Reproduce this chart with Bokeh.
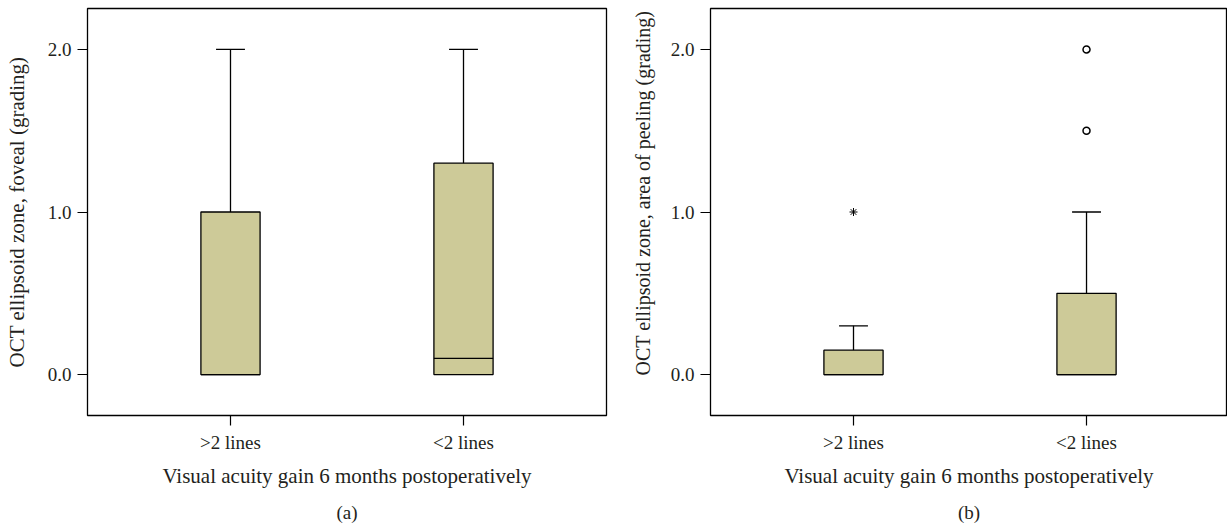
from bokeh.plotting import figure
from bokeh.layouts import row
from bokeh.models import FixedTicker, Range1d, Title
from bokeh.embed import file_html
from bokeh.resources import INLINE

# ---- data ----
groups = [">2 lines", "<2 lines"]

a_min = [0.0, 0.0]
a_q1 = [0.0, 0.0]
a_med = [0.0, 0.1]
a_q3 = [1.0, 1.3]
a_max = [2.0, 2.0]

b_min = [0.0, 0.0]
b_q1 = [0.0, 0.0]
b_med = [0.0, 0.0]
b_q3 = [0.15, 0.5]
b_max = [0.3, 1.0]

b_extreme_group = [">2 lines"]
b_extreme_val = [1.0]
b_outlier_group = ["<2 lines", "<2 lines"]
b_outlier_val = [1.5, 2.0]

y_ticks = [0.0, 1.0, 2.0]
x_title = "Visual acuity gain 6 months postoperatively"

FONT = "Liberation Serif"
TXT = "#231F20"
FILL = "#CDCA98"


def make(ylabel, panel, mn, q1, md, q3, mx, width, bl, br, xr, title_ylabel=False, yoff=0):
    p = figure(width=width, height=531, output_backend="svg", toolbar_location=None,
               x_range=Range1d(*xr), y_range=Range1d(-0.2515, 2.2515),
               min_border_left=bl, min_border_right=br, min_border_top=8,
               min_border_bottom=115)
    pos = [groups.index(g) + 1 for g in groups]
    half_box = 0.127
    half_cap = 0.062
    # whiskers
    p.segment(x0=pos, y0=q3, x1=pos, y1=mx, line_color="black", line_width=1.3)
    p.segment(x0=pos, y0=q1, x1=pos, y1=mn, line_color="black", line_width=1.3)
    p.segment(x0=[x - half_cap for x in pos], y0=mx, x1=[x + half_cap for x in pos], y1=mx,
              line_color="black", line_width=1.3)
    # boxes
    p.vbar(x=pos, width=2 * half_box, bottom=q1, top=q3, fill_color=FILL,
           line_color="black", line_width=1.3)
    p.segment(x0=[x - half_box for x in pos], y0=md, x1=[x + half_box for x in pos], y1=md,
              line_color="black", line_width=1.3)

    p.xaxis.ticker = FixedTicker(ticks=pos)
    p.xaxis.major_label_overrides = {x: g for x, g in zip(pos, groups)}
    p.yaxis.ticker = FixedTicker(ticks=y_ticks)
    p.yaxis.major_label_overrides = {t: f"{t:.1f}" for t in y_ticks}
    p.xaxis.axis_label = x_title
    for ax in (p.xaxis[0], p.yaxis[0]):
        ax.axis_line_color = None
        ax.major_tick_in = 0
        ax.major_tick_out = 10
        ax.major_tick_line_color = "black"
        ax.major_tick_line_width = 1.2
        ax.minor_tick_line_color = None
        ax.major_label_text_font = FONT
        ax.major_label_text_font_size = "19px"
        ax.major_label_text_color = TXT
        ax.axis_label_text_font = FONT
        ax.axis_label_text_font_size = "21px"
        ax.axis_label_text_font_style = "normal"
        ax.axis_label_text_color = TXT
        ax.major_label_standoff = 6
    p.xaxis.axis_label_standoff = 8
    if title_ylabel:
        p.add_layout(Title(text=ylabel, align="left", offset=yoff, text_font=FONT,
                           text_font_size="20px", text_font_style="normal",
                           text_color=TXT, standoff=27), "left")
    else:
        p.yaxis.axis_label = ylabel
        p.yaxis.axis_label_standoff = 16
    p.xgrid.visible = False
    p.ygrid.visible = False
    p.outline_line_color = "black"
    p.outline_line_width = 1.3
    p.outline_line_alpha = 1
    p.add_layout(Title(text=panel, align="center", text_font=FONT, text_font_size="19px",
                       text_font_style="normal", text_color=TXT, standoff=18), "below")
    return p, pos


pa, pos = make("OCT ellipsoid zone, foveal (grading)", "(a)",
               a_min, a_q1, a_med, a_q3, a_max, 614, 87, 8, (0.3863, 2.6137))
pb, pos = make("OCT ellipsoid zone, area of peeling (grading)", "(b)",
               b_min, b_q1, b_med, b_q3, b_max, 613, 96, 0, (0.3863, 2.605),
               title_ylabel=True, yoff=40)

pb.scatter(x=[groups.index(g) + 1 for g in b_extreme_group], y=b_extreme_val,
           marker="asterisk", size=8, line_color="black", line_width=1.0)
pb.scatter(x=[groups.index(g) + 1 for g in b_outlier_group], y=b_outlier_val,
           marker="circle", size=7, line_color="black", fill_color="white", line_width=1.5)

layout = row(pa, pb)
open("out.html", "w").write(file_html(layout, INLINE))
